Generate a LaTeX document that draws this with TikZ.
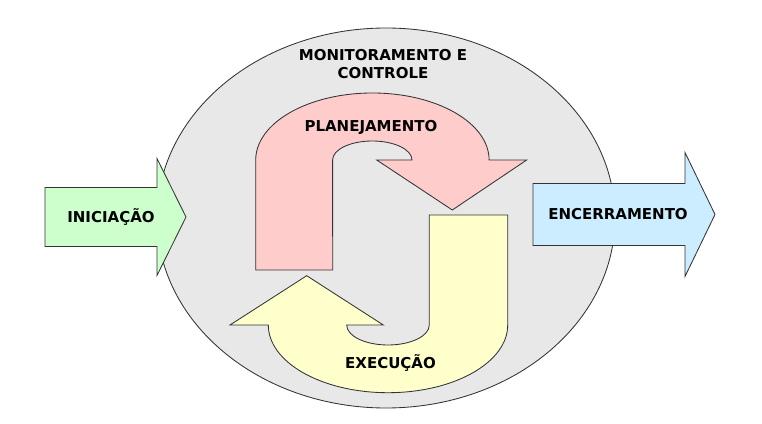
\documentclass[tikz,border=0pt]{standalone}
\usepackage{fontspec}
\setmainfont{DejaVu Sans}
\usetikzlibrary{positioning}
\definecolor{circfill}{HTML}{E8E8E8}
\definecolor{planfill}{HTML}{FFCCCC}
\definecolor{execfill}{HTML}{FFFFCC}
\definecolor{inifill}{HTML}{CCFFCC}
\definecolor{encfill}{HTML}{CCECFF}
\definecolor{edge}{HTML}{333333}
\begin{document}
\begin{tikzpicture}[x=1pt,y=1pt,line join=miter,
  outl/.style={draw=edge,line width=.85pt},
  every node/.style={font=\fontsize{15}{18}\selectfont\bfseries,align=center}]
\useasboundingbox (0,0) rectangle (762,423);
% monitoramento e controle
\draw[outl,fill=circfill] (386,205) ellipse[x radius=229,y radius=190];
% planejamento
\draw[outl,fill=planfill] (255.7,153) -- (255.7,263)
  arc[start angle=180,end angle=0,x radius=116.7,y radius=67]
  -- (526.7,263) -- (452.3,213) -- (376.7,263) -- (412,263)
  arc[start angle=0,end angle=180,x radius=39.7,y radius=19]
  -- (332.7,153) -- cycle;
% execucao
\draw[outl,fill=execfill] (429.3,208) -- (507.7,208) -- (507.7,98)
  arc[start angle=0,end angle=-180,x radius=119.7,y radius=67.7]
  -- (230,98) -- (306.7,147.3) -- (383.3,98) -- (346.7,98)
  arc[start angle=180,end angle=360,x radius=41.3,y radius=20]
  -- cycle;
% iniciacao / encerramento
\draw[outl,fill=inifill] (45,176.5) -- (45,235.5) -- (157,235.5) -- (157,264.5)
  -- (186,206) -- (157,147.5) -- (157,176.5) -- cycle;
\draw[outl,fill=encfill] (533,177.5) -- (533,239.5) -- (685,239.5) -- (685,270.5)
  -- (715,208.5) -- (685,146.5) -- (685,177.5) -- cycle;
\node (mc) at (383,359) {MONITORAMENTO E\\CONTROLE};
\node (plan) at (371,296) {PLANEJAMENTO};
\node (exec) at (390.5,60) {EXECUÇÃO};
\node (ini) at (111,206) {INICIAÇÃO};
\node (enc) at (618,209) {ENCERRAMENTO};
\end{tikzpicture}
\end{document}
